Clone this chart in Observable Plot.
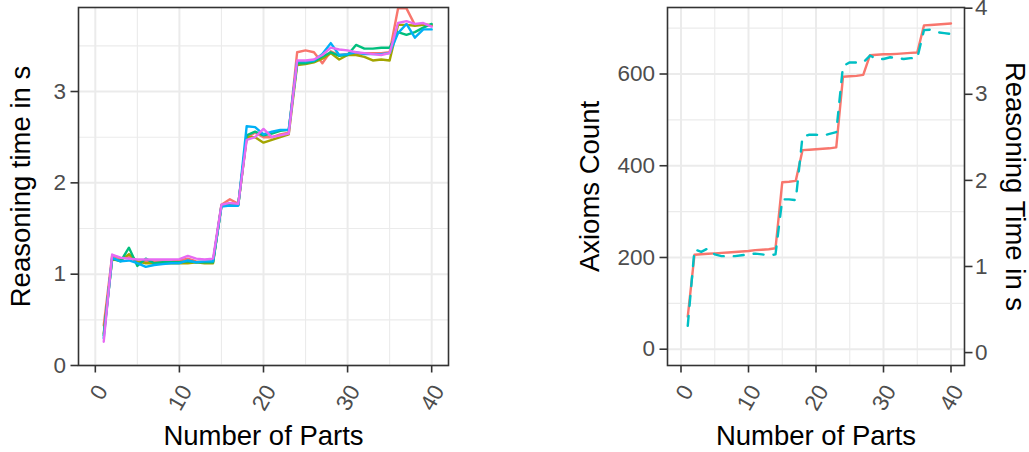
<!DOCTYPE html>
<html><head><meta charset="utf-8">
<script src="https://cdn.jsdelivr.net/npm/d3@7"></script>
<script src="https://cdn.jsdelivr.net/npm/@observablehq/plot@0.6"></script>
<style>
body{margin:0;background:#fff;}
#wrap{position:relative;width:1029px;height:452px;overflow:hidden;}
.panel{position:absolute;top:0;}
</style></head><body><div id="wrap"></div>
<script>
// ---------- data ----------
const parts = [1,2,3,4,5,6,7,8,9,10,11,12,13,14,15,16,17,18,19,20,21,22,23,24,25,26,27,28,29,30,31,32,33,34,35,36,37,38,39,40];

const timeRed   = [0.44,1.20,1.17,1.19,1.13,1.15,1.14,1.14,1.14,1.15,1.17,1.14,1.13,1.14,1.76,1.82,1.77,2.49,2.55,2.50,2.50,2.53,2.55,3.43,3.45,3.43,3.31,3.44,3.40,3.41,3.41,3.42,3.42,3.42,3.43,3.91,3.91,3.73,3.74,3.72];
const timeOlive = [0.35,1.16,1.15,1.22,1.14,1.12,1.12,1.12,1.12,1.12,1.12,1.13,1.12,1.12,1.75,1.76,1.76,2.50,2.50,2.44,2.47,2.50,2.53,3.29,3.30,3.32,3.36,3.42,3.35,3.40,3.40,3.38,3.34,3.35,3.34,3.73,3.73,3.72,3.73,3.73];
const timeGreen = [0.33,1.17,1.14,1.29,1.09,1.17,1.12,1.13,1.13,1.13,1.14,1.13,1.13,1.13,1.75,1.77,1.76,2.52,2.56,2.52,2.54,2.57,2.58,3.31,3.31,3.33,3.38,3.43,3.39,3.40,3.51,3.47,3.47,3.48,3.48,3.65,3.62,3.65,3.70,3.74];
const timeBlue  = [0.30,1.18,1.14,1.15,1.12,1.08,1.10,1.11,1.12,1.12,1.15,1.13,1.14,1.14,1.74,1.75,1.75,2.62,2.61,2.53,2.56,2.58,2.58,3.33,3.33,3.34,3.41,3.53,3.40,3.41,3.43,3.41,3.41,3.41,3.42,3.64,3.74,3.59,3.68,3.68];
const timePink  = [0.26,1.215,1.18,1.17,1.16,1.16,1.16,1.16,1.16,1.165,1.20,1.17,1.16,1.17,1.76,1.78,1.77,2.47,2.50,2.59,2.50,2.52,2.54,3.34,3.34,3.35,3.40,3.48,3.46,3.45,3.43,3.42,3.41,3.40,3.42,3.75,3.77,3.74,3.75,3.71];

const seriesNames  = ["s1","s2","s3","s4","s5"];
const seriesValues = [timeRed, timeOlive, timeGreen, timeBlue, timePink];
const seriesColors = ["#F8766D","#A3A500","#00BF7D","#00B0F6","#E76BF3"];

const axiomsCount = [71,206,207,208,209,210,211,212,213,214,216,217,218,220,364,365,367,434,435,436,437,438,440,594,595,596,598,641,642,643,643,644,645,646,647,706,707,708,709,710];
const reasoningTime = [0.31,1.20,1.17,1.21,1.14,1.12,1.12,1.12,1.13,1.14,1.15,1.14,1.13,1.14,1.78,1.78,1.77,2.51,2.53,2.53,2.52,2.54,2.56,3.33,3.37,3.37,3.37,3.45,3.41,3.41,3.43,3.42,3.41,3.42,3.42,3.745,3.75,3.72,3.71,3.70];

const xTicks = [0,10,20,30,40];
const xMinor = [5,15,25,35];
const yTicksLeft = [0,1,2,3];
const yMinorLeft = [0.5,1.5,2.5,3.5];
const yTicksAxioms = [0,200,400,600];
const yMinorAxioms = [100,300,500,700];
const yTicksTime = [0,1,2,3,4];

const xTitle = "Number of Parts";
const yTitleLeft = "Reasoning time in s";
const yTitleAxioms = "Axioms Count";
const yTitleTime = "Reasoning Time in s";

// ---------- build tables ----------
const leftData = [];
seriesNames.forEach((s, i) => parts.forEach((p, j) => leftData.push({series: s, part: p, time: seriesValues[i][j]})));
const axData = parts.map((p, j) => ({part: p, axioms: axiomsCount[j]}));
const tData = parts.map((p, j) => ({part: p, time: reasoningTime[j]}));

// ---------- style ----------
const FONT = '"Liberation Sans", Arial, Helvetica, sans-serif';
const GRID = "#EBEBEB";
const DARK = "#333333";
const TXT = "#4D4D4D";
const TICK_FS = 22.5;
const TITLE_FS = 27.5;
const H = 452, MT = 7, MB = 87;
const fmt = d => String(d);

function gridMarks(yMaj, yMin) {
  return [
    Plot.ruleX(xMinor, {stroke: GRID, strokeWidth: 1.1}),
    Plot.ruleY(yMin, {stroke: GRID, strokeWidth: 1.1}),
    Plot.ruleX(xTicks, {stroke: GRID, strokeWidth: 2}),
    Plot.ruleY(yMaj, {stroke: GRID, strokeWidth: 2})
  ];
}
function xAxisMarks() {
  return [
    Plot.axisX({ticks: xTicks, tickSize: 7.5, text: null, stroke: DARK, strokeWidth: 1.6, label: null}),
    Plot.axisX({ticks: xTicks, tickSize: 0, tickPadding: 13.5, tickRotate: -60, tickFormat: fmt,
      fill: TXT, fontSize: TICK_FS, label: null, dx: 7, dy: 8}),
    Plot.text([xTitle], {frameAnchor: "bottom", text: d => d, dy: 79, lineAnchor: "bottom", textAnchor: "middle",
      fontSize: TITLE_FS, fill: "black"})
  ];
}

const wrap = document.getElementById("wrap");

// ---------- left panel ----------
const left = Plot.plot({
  width: 470, height: H, marginLeft: 78, marginRight: 22, marginTop: MT, marginBottom: MB,
  style: {fontFamily: FONT, background: "transparent", overflow: "visible"},
  x: {domain: [-2, 42]},
  y: {domain: [0, 3.92]},
  color: {domain: seriesNames, range: seriesColors},
  marks: [
    ...gridMarks(yTicksLeft, yMinorLeft),
    Plot.line(leftData, {x: "part", y: "time", stroke: "series", z: "series", strokeWidth: 2.4}),
    Plot.frame({stroke: DARK, strokeWidth: 1.6}),
    ...xAxisMarks(),
    Plot.axisY({ticks: yTicksLeft, tickSize: 7.5, tickPadding: 5, tickFormat: fmt, stroke: DARK, strokeWidth: 1.6,
      fill: TXT, fontSize: TICK_FS, label: null}),
    Plot.text([yTitleLeft], {frameAnchor: "left", text: d => d, rotate: -90, dx: -57, lineAnchor: "middle",
      textAnchor: "middle", fontSize: TITLE_FS, fill: "black"})
  ]
});
left.classList.add("panel");
left.style.left = "0px";
wrap.appendChild(left);

// ---------- right panel (axioms, left axis) ----------
const RW = 489, RML = 127, RMR = 65;
const right = Plot.plot({
  width: RW, height: H, marginLeft: RML, marginRight: RMR, marginTop: MT, marginBottom: MB,
  style: {fontFamily: FONT, background: "transparent", overflow: "visible"},
  x: {domain: [-2, 42]},
  y: {domain: [-35.5, 745]},
  marks: [
    ...gridMarks(yTicksAxioms, yMinorAxioms),
    Plot.line(axData, {x: "part", y: "axioms", stroke: "#F8766D", strokeWidth: 2.4}),
    Plot.frame({stroke: DARK, strokeWidth: 1.6}),
    ...xAxisMarks(),
    Plot.axisY({ticks: yTicksAxioms, tickSize: 7.5, tickPadding: 5, tickFormat: fmt, stroke: DARK, strokeWidth: 1.6,
      fill: TXT, fontSize: TICK_FS, label: null}),
    Plot.text([yTitleAxioms], {frameAnchor: "left", text: d => d, rotate: -90, dx: -77, lineAnchor: "middle",
      textAnchor: "middle", fontSize: TITLE_FS, fill: "black"})
  ]
});
right.classList.add("panel");
right.style.left = "540px";
wrap.appendChild(right);

// ---------- right panel overlay (reasoning time, right axis) ----------
const overlay = Plot.plot({
  width: RW, height: H, marginLeft: RML, marginRight: RMR, marginTop: MT, marginBottom: MB,
  style: {fontFamily: FONT, background: "transparent", overflow: "visible"},
  x: {domain: [-2, 42], axis: null},
  y: {domain: [-0.15, 4.008]},
  marks: [
    Plot.line(tData, {x: "part", y: "time", stroke: "#00BFC4", strokeWidth: 2.4, strokeDasharray: "10,10"}),
    Plot.axisY({anchor: "right", ticks: yTicksTime, tickSize: 7.5, tickPadding: 3, tickFormat: fmt, stroke: DARK,
      strokeWidth: 1.6, fill: TXT, fontSize: TICK_FS, label: null}),
    Plot.text([yTitleTime], {frameAnchor: "right", text: d => d, rotate: 90, dx: 50, lineAnchor: "middle",
      textAnchor: "middle", fontSize: TITLE_FS, fill: "black"})
  ]
});
overlay.classList.add("panel");
overlay.style.left = "540px";
wrap.appendChild(overlay);
</script>
</body></html>
